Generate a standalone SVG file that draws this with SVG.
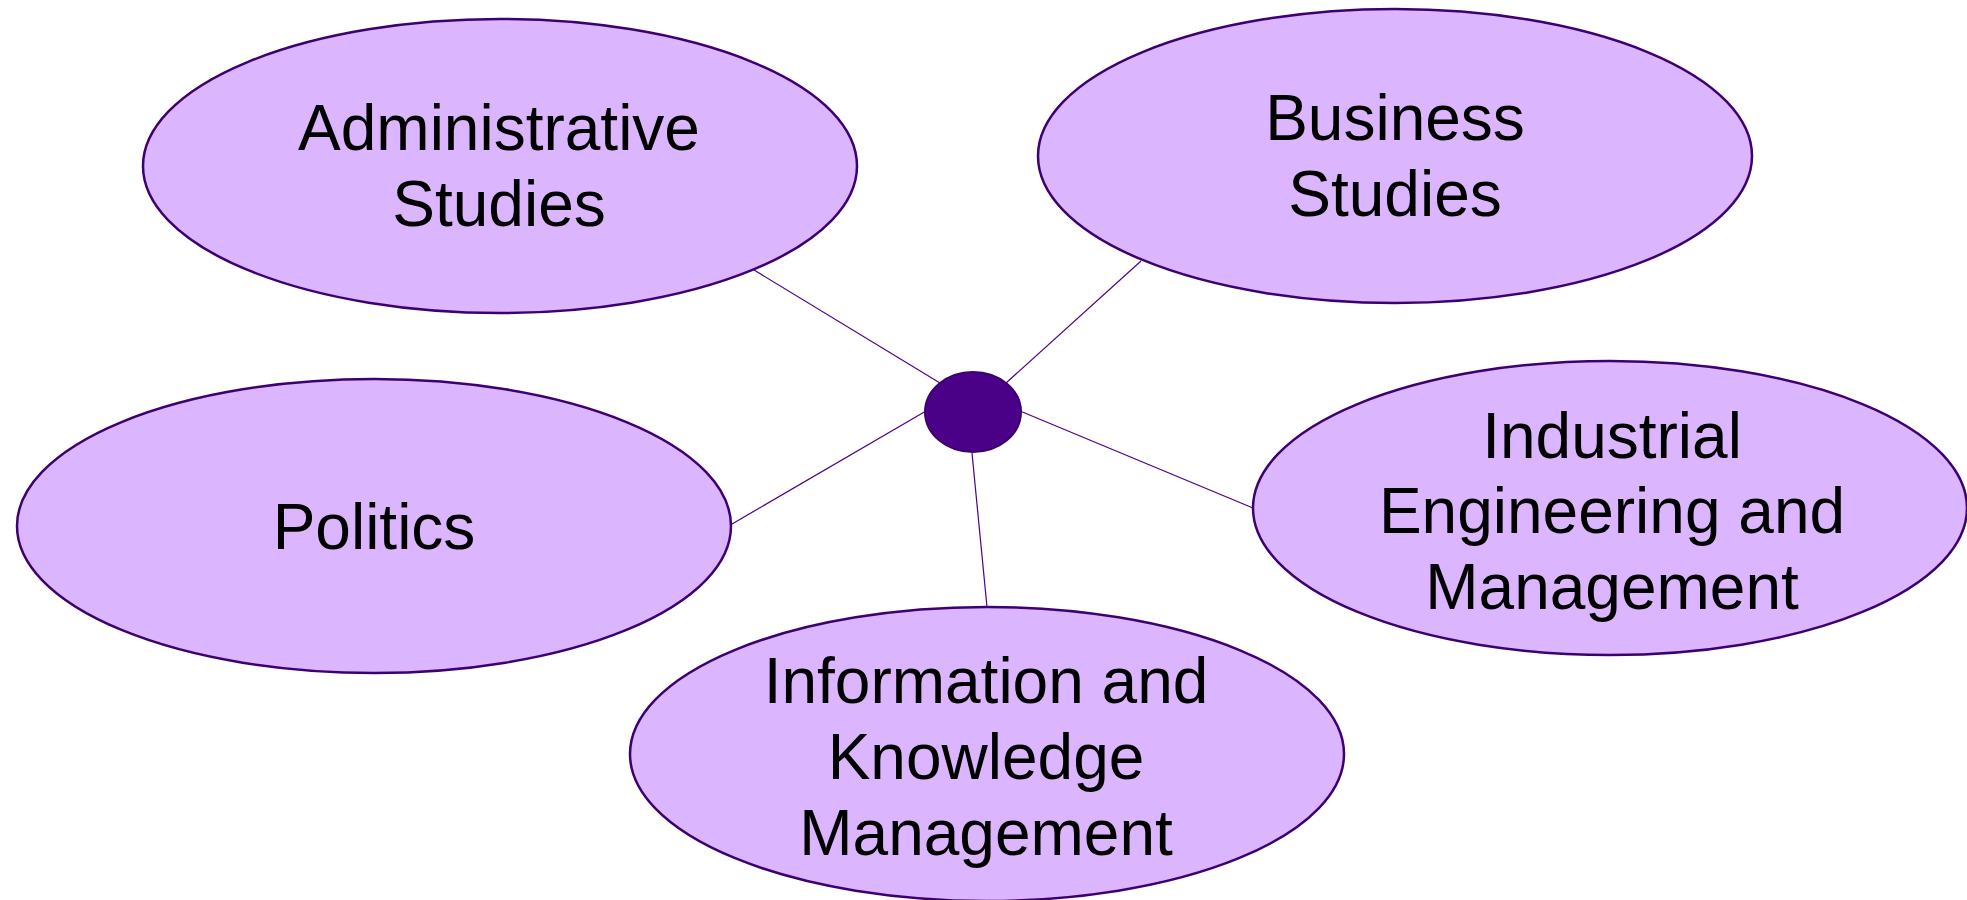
<svg xmlns="http://www.w3.org/2000/svg" width="1967" height="900" viewBox="0 0 1967 900">
<style>
.n{fill:#dcb5ff;stroke:#3d0070;stroke-width:2.5}
.c{fill:#4b0088;stroke:#3d0070;stroke-width:2}
.t{font-family:"Liberation Sans",Arial,sans-serif;font-size:64px;fill:#000;text-anchor:middle}
.l{stroke:#4b0088;stroke-width:1.2;fill:none}
</style>
<rect width="1967" height="900" fill="#fff"/>
<g id="connectors">
<line class="l" x1="754" y1="270" x2="940" y2="383"/>
<line class="l" x1="1141" y1="261" x2="1006" y2="383"/>
<line class="l" x1="732" y1="524" x2="926" y2="411"/>
<line class="l" x1="1020" y1="411" x2="1253" y2="508"/>
<line class="l" x1="972" y1="453" x2="987" y2="607"/>
</g>
<g id="admin">
<ellipse class="n" cx="500" cy="166" rx="357" ry="147"/>
<text class="t" x="499" y="150">Administrative</text>
<text class="t" x="499" y="226">Studies</text>
</g>
<g id="business">
<ellipse class="n" cx="1395" cy="156" rx="357" ry="147"/>
<text class="t" x="1395" y="140">Business</text>
<text class="t" x="1395" y="216">Studies</text>
</g>
<g id="politics">
<ellipse class="n" cx="374" cy="526" rx="357" ry="147"/>
<text class="t" x="374" y="549">Politics</text>
</g>
<g id="industrial">
<ellipse class="n" cx="1610" cy="508" rx="357" ry="147"/>
<text class="t" x="1612" y="458">Industrial</text>
<text class="t" x="1612" y="533">Engineering and</text>
<text class="t" x="1612" y="609">Management</text>
</g>
<g id="information">
<ellipse class="n" cx="987" cy="754" rx="357" ry="147"/>
<text class="t" x="986" y="703">Information and</text>
<text class="t" x="986" y="779">Knowledge</text>
<text class="t" x="986" y="855">Management</text>
</g>
<g id="center">
<ellipse class="c" cx="973" cy="412" rx="48" ry="40"/>
</g>
</svg>
